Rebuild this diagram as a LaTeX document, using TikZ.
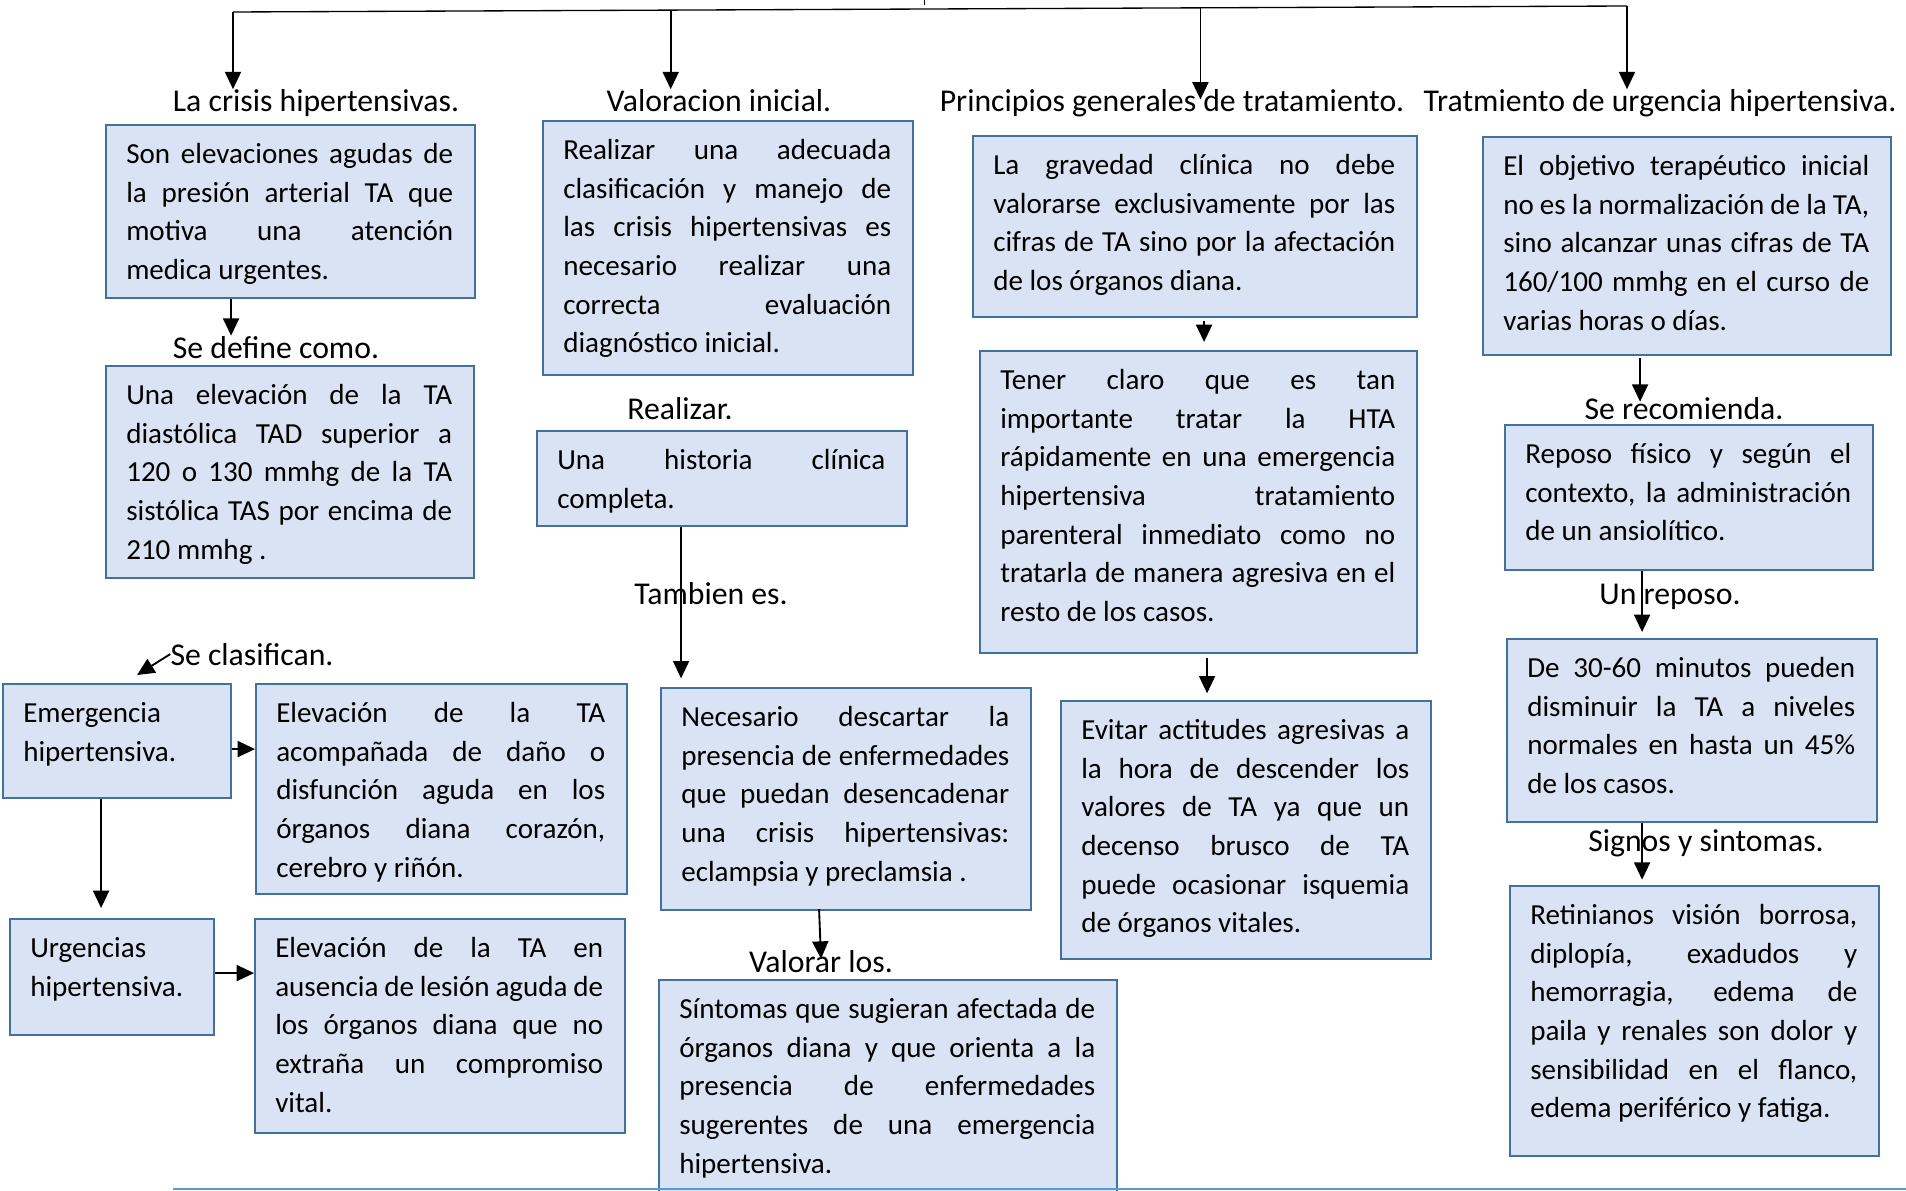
\documentclass[tikz,border=0pt]{standalone}
\usepackage{fontspec}
\setmainfont{Carlito}
\usetikzlibrary{arrows.meta,calc}
\definecolor{bfill}{HTML}{DAE3F3}
\definecolor{bdraw}{HTML}{41719C}
\definecolor{bline}{HTML}{5B9BD5}
\newcommand\jbr{\linebreak}
\hyphenpenalty=10000
\exhyphenpenalty=10000
% name, x, y (top-left, px), w, h, align, text
\newcommand\bx[7]{%
  \node[boxst, minimum width=#4*0.75pt, minimum height=#5*0.75pt, anchor=north west] (#1) at (#2,#3) {};
  \node[txtst, align=#6, text width=(#4-42)*0.75pt, anchor=base west] (#1t) at ($(#1.north west)+(21,39.5)$) {#7};
}
\begin{document}
\begin{tikzpicture}[x=0.75pt,y=-0.75pt,
  boxst/.style={draw=bdraw, fill=bfill, line width=1.6pt, inner sep=0pt},
  txtst/.style={inner sep=0pt, font=\fontsize{21.8pt}{29pt}\selectfont},
  hd/.style={inner sep=0pt, anchor=base, font=\fontsize{23.8pt}{28pt}\selectfont},
  arr/.style={line width=1.4pt, -{Triangle[length=13pt,width=12pt]}}]
\clip (0,0) rectangle (1906,1191);
\fill[white] (0,0) rectangle (1906,1191);

% headings
\node[hd] (h1) at (316,111.5) {La crisis hipertensivas.};
\node[hd] (h2) at (719,111.5) {Valoracion inicial.};
\node[hd] (h3) at (1172,111.5) {Principios generales de tratamiento.};
\node[hd] (h4) at (1660,111.5) {Tratmiento de urgencia hipertensiva.};
\node[hd] (hdef) at (276,358) {Se define como.};
\node[hd] (hrea) at (680,419) {Realizar.};
\node[hd] (htam) at (711,604) {Tambien es.};
\node[hd] (hcla) at (252,665) {Se clasifican.};
\node[hd] (hval) at (821,972) {Valorar los.};
\node[hd] (hrec) at (1684,419) {Se recomienda.};
\node[hd] (hrep) at (1670,604) {Un reposo.};
\node[hd] (hsig) at (1706,851) {Signos y sintomas.};

% boxes
\bx{A}{105}{124}{369}{173}{justify}{Son elevaciones agudas de\jbr la presión arterial TA que\jbr motiva una atención\jbr medica urgentes.}
\bx{B}{105}{365}{368}{212}{justify}{Una elevación de la TA\jbr diastólica TAD superior a\jbr 120 o 130 mmhg de la TA\jbr sistólica TAS por encima de\jbr 210 mmhg .}
\bx{C}{542}{120}{370}{254}{justify}{Realizar una adecuada\jbr clasificación y manejo de\jbr las crisis hipertensivas es\jbr necesario realizar una\jbr correcta evaluación\jbr diagnóstico inicial.}
\bx{D}{536}{430}{370}{95}{justify}{Una historia clínica\jbr completa.}
\bx{E}{660}{687}{370}{222}{justify}{Necesario descartar la\jbr presencia de enfermedades\jbr que puedan desencadenar\jbr una crisis hipertensivas:\jbr eclampsia y preclamsia .}
\bx{F}{658}{979}{458}{240}{justify}{Síntomas que sugieran afectada de\jbr órganos diana y que orienta a la\jbr presencia de enfermedades\jbr sugerentes de una emergencia\jbr hipertensiva.}
\bx{G}{972}{135}{444}{181}{justify}{La gravedad clínica no debe\jbr valorarse exclusivamente por las\jbr cifras de TA sino por la afectación\jbr de los órganos diana.}
\bx{H}{979}{350}{437}{302}{justify}{Tener claro que es tan\jbr importante tratar la HTA\jbr rápidamente en una emergencia\jbr hipertensiva tratamiento\jbr parenteral inmediato como no\jbr tratarla de manera agresiva en el\jbr resto de los casos.}
\bx{I}{1060}{700}{370}{258}{justify}{Evitar actitudes agresivas a\jbr la hora de descender los\jbr valores de TA ya que un\jbr decenso brusco de TA\jbr puede ocasionar isquemia\jbr de órganos vitales.}
\bx{J}{1482}{136}{408}{218}{justify}{El objetivo terapéutico inicial\jbr no es la normalización de la TA,\jbr sino alcanzar unas cifras de TA\jbr 160/100 mmhg en el curso de\jbr varias horas o días.}
\bx{K}{1504}{424}{368}{145}{justify}{Reposo físico y según el\jbr contexto, la administración\jbr de un ansiolítico.}
\bx{L}{1506}{638}{370}{183}{justify}{De 30-60 minutos pueden\jbr disminuir la TA a niveles\jbr normales en hasta un 45\%\jbr de los casos.}
\bx{M}{1509}{885}{369}{270}{justify}{Retinianos visión borrosa,\jbr diplopía, exadudos y\jbr hemorragia, edema de\jbr paila y renales son dolor y\jbr sensibilidad en el flanco,\jbr edema periférico y fatiga.}
\bx{N}{2}{683}{228}{114}{left}{Emergencia\newline hipertensiva.}
\bx{O}{255}{683}{371}{210}{justify}{Elevación de la TA\jbr acompañada de daño o\jbr disfunción aguda en los\jbr órganos diana corazón,\jbr cerebro y riñón.}
\bx{P}{9}{918}{204}{116}{left}{Urgencias\newline hipertensiva.}
\bx{Q}{254}{918}{370}{214}{justify}{Elevación de la TA en\jbr ausencia de lesión aguda de\jbr los órganos diana que no\jbr extraña un compromiso\jbr vital.}

% top bus
\coordinate (busL) at (233,12);
\coordinate (busR) at (1627,6);
\coordinate (b2) at ($(busL)!0.314!(busR)$);
\coordinate (b3) at ($(busL)!0.694!(busR)$);
\coordinate (tk) at (924,0);
\draw[line width=1pt] (busL) -- (busR);
\draw[line width=0.6pt] (tk) -- ++(0,5);
\draw[arr] (busL) -- (busL |- h1.north);
\draw[arr] (b2) -- (b2 |- h2.north);
\coordinate (b3e) at ($(b3 |- h3.base)+(0,-12)$);
\draw[arr] (b3) -- (b3e);
\draw[arr] (busR) -- (busR |- h4.north);

% column 1
\coordinate (a6) at ($(A.south)+(-59.5,0)$);
\draw[arr] (a6) -- (a6 |- hdef.north);
\coordinate (c15) at ($(N.north)+(20,-8)$);
\draw[arr] (hcla.west) -- (c15);
\coordinate (n16) at ($(N.east)+(0,8)$);
\draw[arr] (n16) -- (n16 -| O.west);
\coordinate (n17) at ($(N.south)+(-16,0)$);
\draw[arr, shorten >=7.5pt] (n17) -- (n17 |- P.north);
\coordinate (p18) at ($(P.east)+(0,-4)$);
\draw[arr] (p18) -- (p18 -| Q.west);

% column 2
\coordinate (d8) at ($(D.south)+(-41,0)$);
\draw[arr, shorten >=6.5pt] (d8) -- (d8 |- E.north);
\coordinate (e9) at ($(E.south)+(-27,-2)$);
\coordinate (e9e) at ($(hval.north)+(0,9)$);
\draw[arr] (e9) -- (e9e);

% column 3
\coordinate (g10) at ($(G.south)+(9,3)$);
\draw[arr, shorten >=6pt] (g10) -- (g10 |- H.north);
\coordinate (h11) at ($(H.south)+(8.5,4)$);
\draw[arr, shorten >=5pt] (h11) -- (h11 |- I.north);

% column 4
\coordinate (j12) at ($(J.south)+(-47,2)$);
\coordinate (j12e) at ($(j12 |- hrec.north)+(0,5)$);
\draw[arr] (j12) -- (j12e);
\coordinate (k13) at ($(K.south)+(-47,0)$);
\draw[arr, shorten >=4.5pt] (k13) -- (k13 |- L.north);
\coordinate (l14) at ($(L.south)+(-50,0)$);
\draw[arr, shorten >=4pt] (l14) -- (l14 |- M.north);

% bottom line
\coordinate (bl) at (173,1189);
\coordinate (br) at (1906,1189);
\draw[bline, line width=1.5pt] (bl) -- (br);
\end{tikzpicture}
\end{document}
